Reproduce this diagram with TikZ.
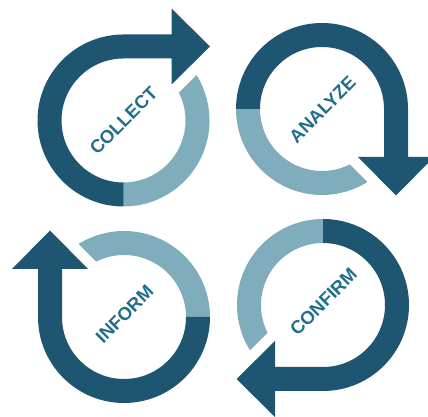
\documentclass[tikz,border=0pt]{standalone}
\usepackage{fontspec}
\setmainfont{Liberation Sans}
\definecolor{darkteal}{RGB}{30,85,112}
\definecolor{lightteal}{RGB}{127,173,187}
\definecolor{labelteal}{RGB}{31,110,140}

\begin{document}
\begin{tikzpicture}[x=0.75pt,y=0.75pt,
  darkpart/.style={fill=darkteal},
  lightpart/.style={fill=lightteal},
  steplabel/.style={text=labelteal, font=\bfseries\fontsize{13.8}{15}\selectfont, rotate=45, inner sep=0.75pt}]
\useasboundingbox (0,0) rectangle (428,417);

%Shape: Light Arc [collect]
\fill [lightpart, shift={(123.5,296.5)}, rotate=0] (-90:86) arc [start angle=-90, end angle=31.9, radius=86] -- (26.7:62) arc [start angle=26.7, end angle=-90, radius=62] -- cycle ;
%Shape: Dark Arrow [collect]
\fill [darkpart, shift={(123.5,296.5)}, rotate=0] (270:86) arc [start angle=270, end angle=90, radius=86] -- (48,86) -- (48,112) -- (86.5,74) -- (48,36) -- (48,62) -- (0,62) arc [start angle=90, end angle=270, radius=62] -- cycle ;

%Shape: Light Arc [analyze]
\fill [lightpart, shift={(322,308)}, rotate=-90] (-90:86) arc [start angle=-90, end angle=31.9, radius=86] -- (26.7:62) arc [start angle=26.7, end angle=-90, radius=62] -- cycle ;
%Shape: Dark Arrow [analyze]
\fill [darkpart, shift={(322,308)}, rotate=-90] (270:86) arc [start angle=270, end angle=90, radius=86] -- (48,86) -- (48,112) -- (86.5,74) -- (48,36) -- (48,62) -- (0,62) arc [start angle=90, end angle=270, radius=62] -- cycle ;

%Shape: Light Arc [inform]
\fill [lightpart, shift={(124,100)}, rotate=90] (-90:86) arc [start angle=-90, end angle=31.9, radius=86] -- (26.7:62) arc [start angle=26.7, end angle=-90, radius=62] -- cycle ;
%Shape: Dark Arrow [inform]
\fill [darkpart, shift={(124,100)}, rotate=90] (270:86) arc [start angle=270, end angle=90, radius=86] -- (48,86) -- (48,112) -- (86.5,74) -- (48,36) -- (48,62) -- (0,62) arc [start angle=90, end angle=270, radius=62] -- cycle ;

%Shape: Light Arc [confirm]
\fill [lightpart, shift={(323,112)}, rotate=180] (-90:86) arc [start angle=-90, end angle=31.9, radius=86] -- (26.7:62) arc [start angle=26.7, end angle=-90, radius=62] -- cycle ;
%Shape: Dark Arrow [confirm]
\fill [darkpart, shift={(323,112)}, rotate=180] (270:86) arc [start angle=270, end angle=90, radius=86] -- (48,86) -- (48,112) -- (86.5,74) -- (48,36) -- (48,62) -- (0,62) arc [start angle=90, end angle=270, radius=62] -- cycle ;

% Text Node
\node [steplabel] (collect) at (123.5,296.5) {COLLECT};
% Text Node
\node [steplabel] (analyze) at (322.5,307.5) {ANALYZE};
% Text Node
\node [steplabel] (inform) at (124.5,103) {INFORM};
% Text Node
\node [steplabel] (confirm) at (323.5,115) {CONFIRM};

\end{tikzpicture}
\end{document}
